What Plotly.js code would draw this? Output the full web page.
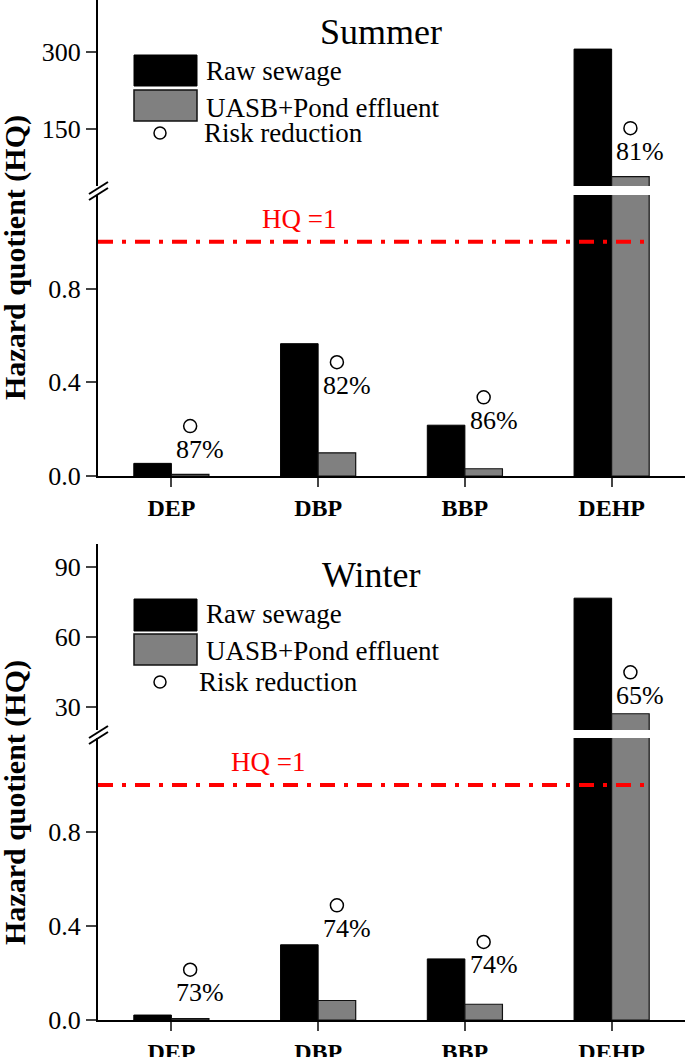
<!DOCTYPE html>
<html>
<head>
<meta charset="utf-8">
<script src="https://cdn.plot.ly/plotly-3.0.1.min.js"></script>
<style>html,body{margin:0;padding:0;background:#fff;}#chart{width:685px;height:1057px;}</style>
</head>
<body>
<div id="chart"></div>
<script>
// ---------- data ----------
const categories = ['DEP', 'DBP', 'BBP', 'DEHP'];
const summerRaw = [0.054, 0.565, 0.217, 305];
const summerEffluent = [0.007, 0.099, 0.031, 58];
const summerReduction = [87, 82, 86, 81];          // %
const summerReductionMarkerHQ = [0.213, 0.486, 0.336, 152];
const winterRaw = [0.021, 0.32, 0.26, 76.7];
const winterEffluent = [0.006, 0.083, 0.067, 27];
const winterReduction = [73, 74, 74, 65];          // %
const winterReductionMarkerHQ = [0.214, 0.488, 0.332, 44.8];
const lowerTicks = [0, 0.4, 0.8];
const summerUpperTicks = [150, 300];
const winterUpperTicks = [30, 60, 90];
const hqLimit = 1;
const seriesNames = ['Raw sewage', 'UASB+Pond effluent', 'Risk reduction'];

// ---------- geometry helpers (pixel -> paper) ----------
const W = 685, H = 1057, L = 98;
const px = x => (x - L) / (W - L);
const py = y => 1 - y / H;
const FONT = 'Liberation Serif, Times New Roman, serif';
const BAR_W = 0.256;
const idx = categories.map((_, i) => i);
const markerX = idx.map(i => i + BAR_W / 2);

const black = '#000000', gray = '#808080';

function panelTraces(raw, eff, markerHQ, xa, yLow, yUp) {
  const t = [];
  [yLow, yUp].forEach(ya => {
    t.push({type: 'bar', x: idx, y: raw, xaxis: xa, yaxis: ya, name: seriesNames[0], showlegend: false,
      marker: {color: black, line: {color: black, width: 1}}});
    t.push({type: 'bar', x: idx, y: eff, xaxis: xa, yaxis: ya, name: seriesNames[1], showlegend: false,
      marker: {color: gray, line: {color: '#111', width: 1.2}}});
    t.push({type: 'scatter', mode: 'markers', x: markerX, y: markerHQ, xaxis: xa, yaxis: ya, name: seriesNames[2],
      showlegend: false, cliponaxis: true,
      marker: {symbol: 'circle-open', size: 13, color: black, line: {width: 1.5, color: black}}});
  });
  return t;
}

const data = [
  ...panelTraces(summerRaw, summerEffluent, summerReductionMarkerHQ, 'x', 'y', 'y2'),
  ...panelTraces(winterRaw, winterEffluent, winterReductionMarkerHQ, 'x2', 'y3', 'y4')
];

const tickFont = {family: FONT, size: 26, color: '#000'};
const xCommon = {
  range: [-0.5, 3.5], tickmode: 'array', tickvals: idx, ticktext: categories,
  showline: true, linewidth: 2, linecolor: '#000', ticks: 'outside', ticklen: 9, tickwidth: 2,
  showgrid: false, zeroline: false, fixedrange: true,
  tickfont: {family: FONT, size: 24, color: '#000', weight: 'bold'}
};
const yCommon = {
  showline: true, linewidth: 2, linecolor: '#000', ticks: 'outside', ticklen: 10, tickwidth: 2,
  showgrid: false, zeroline: false, tickmode: 'array', tickfont: tickFont, automargin: false
};

const shapes = [];
const annotations = [];

function panelDecor(o) {
  // break marks
  [[0, 0], [0, 6]].forEach(([dx, dy]) => {
    shapes.push({type: 'line', xref: 'paper', yref: 'paper',
      x0: px(89), y0: py(o.brk + 3 + dy), x1: px(108), y1: py(o.brk - 9 + dy),
      line: {color: '#000', width: 2}});
  });
  // HQ = 1 line
  shapes.push({type: 'line', xref: o.xa, yref: o.yLow, x0: -0.5, x1: 3 + BAR_W, y0: hqLimit, y1: hqLimit,
    line: {color: '#ff0000', width: 4, dash: '15px,9px,4px,9px'}});
  annotations.push({xref: 'paper', yref: 'paper', x: px(o.hqX), y: py(o.hqY), text: 'HQ =' + hqLimit,
    showarrow: false, xanchor: 'center', yanchor: 'middle', font: {family: FONT, size: 27, color: '#ff0000'}});
  // title
  annotations.push({xref: 'paper', yref: 'paper', x: px(o.titleX), y: py(o.titleY), text: o.title,
    showarrow: false, xanchor: 'center', yanchor: 'middle', font: {family: FONT, size: 36, color: '#000'}});
  // y title
  annotations.push({xref: 'paper', yref: 'paper', x: px(15), y: py(o.yTitleY), text: 'Hazard quotient (HQ)',
    textangle: -90, showarrow: false, xanchor: 'center', yanchor: 'middle',
    font: {family: FONT, size: 30, color: '#000', weight: 'bold'}});
  // legend
  const lg = o.legend;
  shapes.push({type: 'rect', xref: 'paper', yref: 'paper', x0: px(134), x1: px(197), y0: py(lg.b1[0]), y1: py(lg.b1[1]),
    fillcolor: black, line: {color: '#000', width: 1}});
  shapes.push({type: 'rect', xref: 'paper', yref: 'paper', x0: px(134), x1: px(197), y0: py(lg.b2[0]), y1: py(lg.b2[1]),
    fillcolor: gray, line: {color: '#111', width: 1.5}});
  shapes.push({type: 'circle', xref: 'paper', yref: 'paper', x0: px(154), x1: px(166), y0: py(lg.c - 6), y1: py(lg.c + 6),
    line: {color: '#000', width: 1.5}});
  lg.texts.forEach((ty, k) => {
    annotations.push({xref: 'paper', yref: 'paper', x: px(lg.tx[k]), y: py(ty), text: seriesNames[k],
      showarrow: false, xanchor: 'left', yanchor: 'middle', font: {family: FONT, size: 27, color: '#000'}});
  });
  // reduction labels
  o.red.forEach((r, i) => {
    const v = o.pos[i];
    annotations.push({xref: o.xa, yref: v > 1.2 ? o.yUp : o.yLow, x: markerX[i], y: v, xshift: 10, yshift: -23,
      text: r + '%', showarrow: false, xanchor: 'center', yanchor: 'middle',
      font: {family: FONT, size: 26, color: '#000'}});
  });
}

panelDecor({xa: 'x', yLow: 'y', yUp: 'y2', brk: 191, hqX: 299, hqY: 219, title: 'Summer', titleX: 381, titleY: 32,
  yTitleY: 258, legend: {b1: [55, 86], b2: [90, 121], c: 133, texts: [71, 108, 133], tx: [204, 204, 202]},
  red: summerReduction, pos: summerReductionMarkerHQ});
panelDecor({xa: 'x2', yLow: 'y3', yUp: 'y4', brk: 735, hqX: 268, hqY: 762, title: 'Winter', titleX: 371, titleY: 575,
  yTitleY: 803, legend: {b1: [599, 631], b2: [634, 665], c: 682, texts: [614, 651, 682], tx: [204, 204, 197]},
  red: winterReduction, pos: winterReductionMarkerHQ});

const layout = {
  width: W, height: H, margin: {l: L, r: 0, t: 0, b: 0},
  paper_bgcolor: '#fff', plot_bgcolor: '#fff', showlegend: false,
  barmode: 'group', bargap: 0.488, bargroupgap: 0,
  font: {family: FONT, color: '#000'},
  xaxis: Object.assign({}, xCommon, {anchor: 'y', domain: [0, 1]}),
  xaxis2: Object.assign({}, xCommon, {anchor: 'y3', domain: [0, 1]}),
  yaxis: Object.assign({}, yCommon, {anchor: 'x', domain: [py(476), py(195)], range: [0, 1.2],
    tickvals: lowerTicks, ticktext: lowerTicks.map(v => v.toFixed(1))}),
  yaxis2: Object.assign({}, yCommon, {anchor: 'x', domain: [py(186), 1], range: [40, 400],
    tickvals: summerUpperTicks}),
  yaxis3: Object.assign({}, yCommon, {anchor: 'x2', domain: [py(1020), py(738)], range: [0, 1.2],
    tickvals: lowerTicks, ticktext: lowerTicks.map(v => v.toFixed(1))}),
  yaxis4: Object.assign({}, yCommon, {anchor: 'x2', domain: [py(730), py(544)], range: [20, 100],
    tickvals: winterUpperTicks}),
  shapes: shapes,
  annotations: annotations
};

Plotly.newPlot('chart', data, layout, {staticPlot: true, displayModeBar: false});
</script>
</body>
</html>
